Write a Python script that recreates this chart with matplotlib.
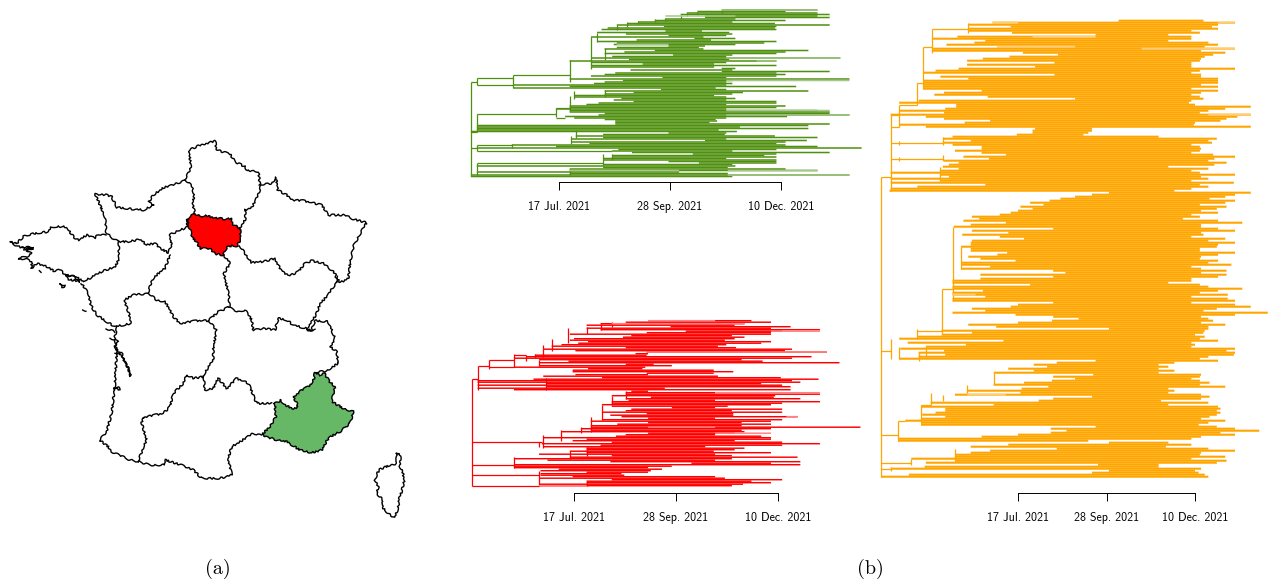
# %%
# ---------------------------------------------------------
# Map of France with two highlighted regions + three dated trees
# ---------------------------------------------------------
import numpy as np
import matplotlib
matplotlib.use("Agg")
import matplotlib.pyplot as plt

W, H = 1268, 588

# %%
# ---------------------------------------------------------
# Map outlines
# ---------------------------------------------------------
idf_region = [(562,268),(572,258),(585,252),(605,258),(620,257),(640,264),(660,265),(680,268),(695,265),(700,285),(712,290),(720,300),(722,325),(712,348),(695,347),(680,352),(670,375),(645,372),(630,355),(600,355),(590,335),(575,322),(572,305),(565,285)]
paca_region = [(825,830),(820,820),(835,818),(840,808),(855,825),(880,838),(895,830),(880,800),(905,780),(925,770),(940,755),(945,728),(960,735),(975,730),(985,750),(1005,770),(1000,790),(995,815),(1030,835),(1060,845),(1050,880),(1020,905),(1000,915),(985,925),(965,960),(935,968),(900,960),(875,945),(860,935),(830,930),(785,915),(810,890),(828,860)]
map_borders = [
    # north
    [(555,150),(565,130),(572,110),(568,60),(600,45),(645,33),(650,60),(690,72),(705,95),(735,110),(742,122),(775,125),(780,165)],
    [(782,165),(775,195),(765,215),(755,232),(735,240),(737,265),(725,290),(718,298)],
    [(555,150),(578,170),(582,200),(577,220),(585,250)],
    # normandy
    [(555,150),(520,165),(490,173),(460,195),(447,215),(462,225),(430,240),(395,237),(350,232),(335,200),(320,195),(285,192),(300,225),(315,260),(318,305),(330,320),(355,335),(385,335),(420,328),(440,345),(465,340),(480,355),(505,368),(515,345),(508,315),(530,305),(560,292),(565,268)],
    # grand est
    [(782,165),(815,160),(828,142),(833,180),(860,195),(880,210),(910,212),(935,218),(965,225),(985,255),(1035,255),(1060,268),(1100,278),(1075,320),(1060,350),(1050,400),(1045,445),(1020,458),(1010,440)],
    [(718,348),(735,370),(755,398),(790,395),(825,385),(845,425),(870,437),(895,425),(915,400),(935,392),(970,400),(1005,430),(1012,455)],
    # bourgogne
    [(1012,455),(1000,470),(985,495),(960,520),(950,550),(930,585),(920,595),(905,592),(880,585),(860,570),(835,565),(825,600),(790,595),(760,600),(755,570),(735,540),(715,545),(685,532)],
    [(690,530),(685,490),(672,430),(690,400),(670,375)],
    # centre
    [(445,490),(455,450),(470,435),(495,415),(510,375)],
    [(445,490),(470,510),(495,515),(520,560),(540,580),(590,572),(625,572),(655,545),(685,532)],
    # brittany and loire
    [(355,335),(358,385),(345,410),(305,425),(270,445),(250,452)],
    [(445,490),(400,495),(372,510),(385,545),(395,580),(345,590),(320,575),(290,555),(272,525),(265,490),(245,460)],
    [(318,315),(295,312),(285,325),(260,315),(235,330),(222,322),(205,300),(190,290),(155,290),(145,305),(120,308),(95,312),(70,320),(55,335),(50,342),(30,335),(45,345),(55,350),(75,355),(100,355),(80,365),(95,370),(80,380),(55,385),(80,388),(95,395),(95,415),(110,400),(125,405),(140,410),(165,425),(180,418),(195,435),(230,440),(250,455)],
    [(65,352),(100,352),(72,362)],
    [(180,462),(195,468),(185,472),(180,462)],
    [(200,435),(225,442),(240,455),(205,448),(200,435)],
    [(248,540),(258,543)],
    [(118,422),(124,426)],
    # atlantic coast
    [(350,590),(345,620),(350,670),(345,760),(335,850),(320,905),(298,930),(325,950),(335,965),(390,990),(415,995)],
    [(318,597),(345,605)],
    [(330,625),(355,635),(345,650),(365,680),(380,705),(392,738)],
    [(345,670),(365,670),(385,715),(392,738)],
    [(342,775),(355,770),(358,780),(342,775)],
    # occitanie
    [(415,995),(430,950),(440,930),(425,880),(428,862),(490,850),(510,830),(520,790),(550,760),(560,735),(580,745),(610,740)],
    [(625,572),(650,600),(640,650),(640,690),(610,735)],
    [(610,740),(615,780),(640,775),(655,745),(680,775),(710,745),(745,760),(770,820),(815,820)],
    [(945,728),(980,722),(1015,700),(1010,665),(990,650),(1005,625),(985,575),(945,572),(935,600),(920,600),(945,600)],
    [(785,915),(760,910),(720,935),(695,950),(685,985),(695,1035),(660,1045),(640,1045),(605,1045),(580,1020),(545,1005),(495,990),(495,1005),(450,1005),(415,995)],
    # corsica
    [(1190,970),(1198,970),(1202,990),(1200,1010),(1208,1025),(1212,1055),(1205,1085),(1198,1105),(1195,1130),(1185,1162),(1170,1155),(1150,1135),(1145,1125),(1150,1115),(1140,1100),(1130,1090),(1135,1070),(1125,1050),(1132,1030),(1140,1018),(1170,1005),(1185,1002),(1190,990),(1190,970)],
]

# %%
# ---------------------------------------------------------
# Tree data: (start day, end day) per tip row, days since 17 Jul 2021
# ---------------------------------------------------------
tick_days = [0, 73, 146]
tick_labels = ["17 Jul. 2021", "28 Sep. 2021", "10 Dec. 2021"]

green_rows = [(107,170),(91,149),(84,170),(80,178),(96,170),(96,178),(70,116),(63,149),(52,114),(45,142),(38,178),(69,143),(32,142),(28,143),(70,94),(25,112),(44,114),(72,110),(21,95),(89,116),(51,100),(25,143),(38,135),(36,116),(72,96),(38,92),(30,95),(63,164),(43,149),(30,143),(75,114),(35,110),(21,185),(46,112),(7,143),(21,110),(55,102),(21,143),(21,102),(107,116),(47,114),(107,178),(37,143),(30,149),(21,143),(68,110),(7,191),(42,114),(30,110),(23,114),(-30,110),(7,156),(-30,103),(67,110),(30,164),(49,121),(30,114),(10,102),(10,110),(41,116),(36,110),(49,143),(26,143),(18,110),(7,149),(7,143),(-2,110),(7,170),(7,178),(30,178),(26,191),(4,150),(10,110),(30,103),(37,104),(37,99),(37,178),(-54,164),(-54,119),(-54,164),(-54,105),(-58,117),(72,110),(29,109),(11,142),(29,170),(8,110),(96,163),(8,149),(20,143),(-31,149),(-2,170),(-54,199),(39,143),(35,114),(48,178),(88,143),(35,135),(35,143),(29,110),(29,143),(72,143),(92,143),(29,114),(-54,116),(29,111),(7,149),(7,170),(-54,79),(7,111),(-58,191),(-58,114)]
green_stems = [(-58,48,110),(-54,45,50),(-54,69,81),(-54,90,94),(-54,102,110),(-30,43,52),(7,33,48),(21,18,39),(25,15,21),(30,25,33),(-2,65,71),(7,57,67),(38,10,13),(45,8,11),(52,7,9),(63,6,8),(70,5,7),(80,3,6),(84,2,4),(91,1,3),(107,0,2),(-31,89,92),(8,84,89),(11,80,85),(29,96,104),(35,96,100),(7,106,110),(10,54,59),(30,53,58)]
green_internal = [(48,-58,-54),(45,-54,-30),(50,-54,-30),(43,-30,7),(69,-54,-2),(65,-2,7),(72,-2,4),(90,-54,-31),(94,-54,35),(102,-54,29),(81,-58,-54),(92,-58,-54)]
green_light = [(0,107,170),(23,38,72),(32,110,185),(34,130,143),(47,110,191),(70,110,191),(110,111,191),(107,7,79),(107,111,170),(67,110,178),(4,70,116)]

red_rows = [(53,127),(37,141),(19,122),(9,115),(69,155),(9,141),(19,176),(80,149),(52,141),(-3,141),(41,113),(35,122),(0,115),(-3,108),(10,141),(3,134),(-9,109),(-16,103),(37,116),(-22,156),(1,151),(52,181),(44,53),(-28,52),(-34,170),(-43,156),(-25,120),(-4,135),(-25,190),(37,57),(-25,70),(-43,51),(10,49),(-1,100),(-1,114),(52,100),(1,53),(-22,103),(20,148),(-29,175),(-69,156),(-69,162),(-20,134),(-69,149),(-20,155),(-69,65),(-43,155),(41,53),(37,101),(37,176),(27,144),(55,143),(37,162),(39,101),(27,176),(27,149),(20,141),(27,110),(70,101),(41,149),(37,113),(20,149),(52,114),(26,114),(34,160),(53,101),(20,149),(12,141),(53,120),(31,141),(12,120),(12,205),(5,141),(12,120),(-9,122),(53,115),(37,101),(30,134),(-22,141),(9,141),(-1,115),(27,149),(-23,176),(19,149),(-22,94),(9,122),(9,115),(-3,100),(9,141),(-25,101),(27,113),(-3,160),(-43,113),(-19,101),(26,162),(84,141),(-43,162),(-43,70),(-43,53),(-11,63),(-24,55),(9,53),(-24,34),(-24,36),(-1,101),(-25,108),(27,149),(9,127),(9,141),(-25,121),(-25,113)]
red_stems = [(-73,39,110),(-69,30,46),(-61,26,32),(-43,22,31),(-34,23,27),(-28,22,25),(-22,16,24),(-16,12,20),(-4,5,15),(9,4,9),(19,2,6),(27,1,4),(-25,26,30),(-20,38,46),(-25,81,84),(-22,76,85),(-9,73,80),(5,71,75),(12,64,74),(20,56,66),(27,50,56),(37,47,52),(-43,91,98),(-3,87,92),(9,84,90),(-25,100,110),(9,107,110)]
red_internal = [(39,-73,-69),(81,-73,-23),(96,-73,-43),(103,-73,-25),(110,-73,-25),(30,-69,-61),(26,-61,-43),(31,-61,-43),(23,-43,-34)]
red_light = [(0,53,101),(2,27,122),(7,141,176),(21,52,181),(71,53,101),(64,152,160),(110,-25,9),(48,101,176),(75,101,141)]

orange_rows = [(83,153),(-21,179),(-41,165),(-6,160),(-41,165),(-41,143),(-5,150),(64,124),(-50,143),(-71,143),(-27,124),(-36,157),(-59,165),(-17,154),(-71,179),(-71,151),(4,171),(33,161),(-7,154),(-29,151),(-42,150),(30,143),(-42,143),(14,143),(-49,179),(-68,150),(-78,143),(30,151),(-64,151),(-41,165),(-78,165),(-78,165),(-78,151),(-78,165),(-78,143),(-30,165),(-61,151),(-69,143),(-25,150),(47,153),(-82,143),(-98,141),(-51,146),(-51,192),(-60,171),(-98,157),(-61,150),(-105,192),(-76,181),(-61,172),(-23,167),(-44,146),(-98,145),(-76,192),
    (14,61),(12,61),(12,58),(-1,54),(-54,116),(-62,164),(-39,157),(-62,160),(-54,143),(-30,150),(-30,151),(-52,150),(-30,143),(-10,161),(-45,179),(-24,162),(-61,157),(-49,172),(-57,162),(-62,124),(-49,157),(-64,143),(-105,150),(-64,179),(-57,151),(-105,157),(-64,143),(-105,178),(-27,150),(-83,157),(-105,143),(-106,129),
    (75,192),(61,179),(47,171),(35,158),(26,179),(10,171),(21,150),(2,172),(12,164),(0,151),(-6,165),(-15,143),(-38,150),(-32,136),(-45,165),(-10,185),(-39,151),(-53,151),(29,165),(-38,179),(-8,151),(-46,153),(-15,143),(5,171),(-38,157),(-39,179),(-39,165),(-47,164),(-39,150),(-39,150),(-9,179),(-17,165),(-41,151),(-31,150),(-2,165),(-47,157),(-47,176),(-23,143),(-47,151),
    (29,172),(39,151),(-31,172),(29,165),(-31,143),(-54,143),(-54,124),(10,150),(-54,157),(-54,185),(-29,165),(-54,150),(-54,173),(-27,143),(-54,173),(-54,179),(29,143),(0,179),(-6,192),(-38,164),(-27,153),(-54,206),(-2,179),(29,151),(50,157),(28,161),(0,151),(-41,171),(-18,157),(75,157),(-63,154),(-38,153),(-63,146),(-83,154),(-98,150),(-12,165),(-91,143),(-43,146),(-76,143),(-97,179),(-61,172),(-82,179),(-60,178),(-82,157),(-98,150),
    (64,165),(32,129),(13,116),(24,124),(-8,116),(13,129),(-20,116),(62,151),(29,150),(47,143),(28,150),(5,158),(-20,150),(25,171),(3,124),(-42,129),(2,124),(-52,151),(61,158),(29,151),(17,118),(-72,157),(-20,124),(-80,165),(-60,167),(-60,164),(-68,167),(-79,164),(-60,158),(-80,151),(-93,171),(-80,157),(-80,149),
    (64,164),(27,179),(40,199),(27,167),(0,179),(-30,151),(-99,143),(-99,58),(75,124),(-8,143),(-39,122),(32,157),(-23,179),(-39,151),(-52,150),(-52,171),(-88,143),(-52,172),(-76,164),(66,116),(-77,116),(-105,151),(75,146),(61,149),(-90,154),(-113,157)]
orange_stems = [(-113,78,228),(-105,47,85),(-105,159,169),(-98,42,53),(-98,60,62),(-98,68,70),(-83,31,42),(-78,13,34),(-71,4,16),(-41,1,6),(-62,58,62),(-62,67,70),(-64,73,80),(-54,103,140),(-47,113,124),(-63,134,156),(-83,154,159),(-98,163,169),(-76,163,168),(-82,166,170),(-72,186,192),(-62,187,190),(-42,182,187),(-20,176,182),(-80,192,201),(-99,200,210),(-52,214,220),(-88,219,222),(-105,223,225)]
orange_internal = [(78,-113,-105),(165,-113,-105),(207,-113,-99),(221,-113,-88),(224,-113,-105),(192,-80,-72),(200,-99,-93),(42,-98,-83),(31,-83,-78),(13,-78,-71),(4,-71,-41),(53,-105,-98),(47,-105,-98),(61,-105,-62),(69,-105,-62),(134,-63,-54),(155,-83,-63)]
orange_light = [(1,-21,0),(1,165,179),(8,12,64),(13,-17,47),(47,157,192),(137,-54,-35),(187,-42,-10),(14,102,179)]

# %%
# ---------------------------------------------------------
# Figure
# ---------------------------------------------------------
fig = plt.figure(figsize=(W / 100, H / 100), dpi=100)

# map axes works in the traced coordinates, sketch gives the rough coastline look
map_ax = fig.add_axes([0, 1 - 530 / H, 440 / W, 400 / H])
map_ax.set_xlim(0, 1320)
map_ax.set_ylim(1200, 0)
map_ax.axis("off")
rough = (0.9, 7, 4)
for region, fill_color in [(idf_region, "#ff0000"), (paca_region, "#66b866")]:
    patch = map_ax.fill(*zip(*region), facecolor=fill_color, edgecolor="black", linewidth=1.0)[0]
    patch.set_sketch_params(*rough)
for border in map_borders:
    xs, ys = zip(*border)
    line = map_ax.plot(xs, ys, color="black", linewidth=1.0)[0]
    line.set_sketch_params(*rough)


def draw_tree(rows, stems, internal, light, color, light_color, x_first, x_last, y_top, y_step, lw, axis_y):
    # full-figure axes so a day and a tip row land on the given pixels
    px_per_day = (x_last - x_first) / tick_days[-1]
    ax = fig.add_axes([0, 0, 1, 1], facecolor="none")
    ax.set_xlim(-x_first / px_per_day, (W - x_first) / px_per_day)
    ax.set_ylim((H - y_top) / y_step, -y_top / y_step)

    rows = np.array(rows)
    ranks = np.arange(len(rows))
    ax.hlines(ranks, rows[:, 0], rows[:, 1], color=color, linewidth=lw).set_snap(False)
    stems = np.array(stems)
    ax.vlines(stems[:, 0], stems[:, 1], stems[:, 2], color=color, linewidth=0.9)
    internal = np.array(internal)
    ax.hlines(internal[:, 0], internal[:, 1], internal[:, 2], color=color, linewidth=0.9)
    light = np.array(light)
    ax.hlines(light[:, 0], light[:, 1], light[:, 2], color=light_color, linewidth=lw).set_snap(False)

    # R style date axis below the tree
    for side in ["left", "right", "top"]:
        ax.spines[side].set_visible(False)
    ax.spines["bottom"].set_position(("data", (axis_y - y_top) / y_step))
    ax.spines["bottom"].set_bounds(tick_days[0], tick_days[-1])
    ax.spines["bottom"].set_linewidth(0.7)
    ax.set_xticks(tick_days)
    ax.set_xticklabels(tick_labels, family="cmss10", fontsize=8.6)
    ax.tick_params(axis="x", length=5.5, width=0.7, pad=8)
    ax.set_yticks([])


draw_tree(green_rows, green_stems, green_internal, green_light, "#4f9010", "#a5c78a", 559, 781, 10, 1.5, 1.1, 182)
draw_tree(red_rows, red_stems, red_internal, red_light, "#ff0000", "#ff8080", 574, 778, 320.7, 1.5, 1.05, 493)
draw_tree(orange_rows, orange_stems, orange_internal, orange_light, "#ffa500", "#ffcd75", 1018, 1195, 20.7, 2.0, 1.5, 493)

fig.text(218 / W, 1 - 569 / H, "(a)", family="cmr10", fontsize=14.5, ha="center", va="center")
fig.text(870 / W, 1 - 569 / H, "(b)", family="cmr10", fontsize=14.5, ha="center", va="center")

fig.savefig("out.png", dpi=100)
